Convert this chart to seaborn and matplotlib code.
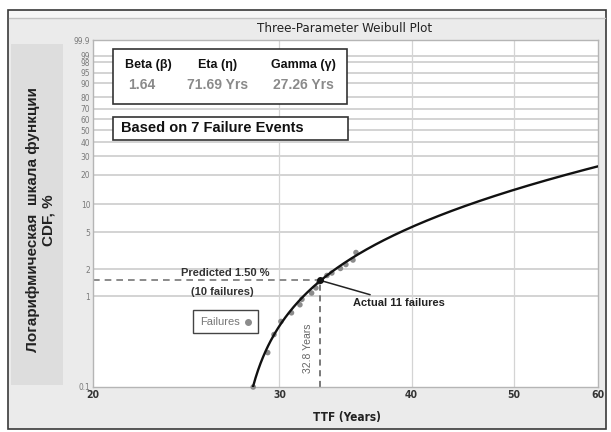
import numpy as np
import pandas as pd
import matplotlib
matplotlib.use("Agg")
import matplotlib.pyplot as plt
from matplotlib.patches import Rectangle
from matplotlib.lines import Line2D
import seaborn as sns

# Fitted three-parameter Weibull model
beta = 1.64
eta = 71.69
gamma = 27.26

# Observed failures: time to failure (years) and median-rank CDF (%)
fail_ttf = [28.34, 29.25, 29.65, 30.10, 30.80, 31.37, 31.51, 32.18,
            32.48, 32.70, 33.27, 33.63, 34.26, 34.67, 35.21, 35.44]
fail_cdf = [0.10, 0.24, 0.38, 0.53, 0.66, 0.81, 0.93, 1.09,
            1.24, 1.45, 1.70, 1.81, 2.03, 2.24, 2.51, 3.03]

# Prediction marker
pred_ttf = 32.8
pred_cdf = 1.50

y_ticks = [0.1, 1, 2, 5, 10, 20, 30, 40, 50, 60, 70, 80, 90, 95, 98, 99, 99.9]
y_tick_labels = ["0.1", "1", "2", "5", "10", "20", "30", "40", "50", "60",
                 "70", "80", "90", "95", "98", "99", "99.9"]
x_ticks = [20, 30, 40, 50, 60]
x_tick_labels = ["20", "30", "40", "50", "60"]

sns.set_theme(style="white")
plt.rcParams["font.family"] = ["Liberation Sans", "DejaVu Sans"]
COND = dict(family="DejaVu Sans", fontstretch="condensed")

W, H = 611, 432
fig = plt.figure(figsize=(W / 100, H / 100), dpi=100, facecolor="white")


def fx(x):
    return x / W


def fy(y):
    return 1 - y / H


def frect(x0, y0, x1, y1, **kw):
    r = Rectangle((fx(x0), fy(y1)), fx(x1) - fx(x0), fy(y0) - fy(y1),
                  transform=fig.transFigure, **kw)
    fig.patches.append(r)
    return r


# Frame and panels
frect(8, 10, 606, 429, facecolor="#ebebeb", edgecolor="#3a3a3a", lw=1.2, zorder=-3)
frect(9, 11, 605, 18, facecolor="#f7f7f7", edgecolor="none", zorder=-2)
fig.add_artist(Line2D([fx(9), fx(605)], [fy(18), fy(18)], color="#c4c4c4",
                      lw=1.0, transform=fig.transFigure, zorder=-1))
frect(11, 44, 63, 385, facecolor="#dddddd", edgecolor="none", zorder=-2)

ax = fig.add_axes([fx(93), fy(387), fx(598) - fx(93), fy(40) - fy(387)])
ax.set_facecolor("white")


def weib_fwd(p):
    p = np.clip(np.asarray(p, dtype=float), 1e-9, 100 - 1e-9)
    return np.log(-np.log(1 - p / 100.0))


def weib_inv(w):
    return 100.0 * (1 - np.exp(-np.exp(w)))


ax.set_xscale("log")
ax.set_yscale("function", functions=(weib_fwd, weib_inv))
ax.set_xlim(20, 60)
ax.set_ylim(0.1, 99.9)

# Model curve from the fitted parameters
t0 = gamma + eta * (-np.log(1 - 0.001)) ** (1 / beta)
t = np.linspace(t0, 60, 400)
cdf = 100 * (1 - np.exp(-((t - gamma) / eta) ** beta))
curve = pd.DataFrame({"TTF": t, "CDF": cdf})
pts = pd.DataFrame({"TTF": fail_ttf, "CDF": fail_cdf})

sns.scatterplot(data=pts, x="TTF", y="CDF", ax=ax, color="#8c8c8c", s=16,
                edgecolor="none", zorder=3, clip_on=False)
sns.lineplot(data=curve, x="TTF", y="CDF", ax=ax, color="#111111", lw=1.7,
             sort=False, zorder=4)

# Grid
ax.set_yticks(y_ticks)
ax.set_yticklabels(y_tick_labels)
ax.set_xticks(x_ticks)
ax.set_xticklabels(x_tick_labels)
ax.minorticks_off()
for v in y_ticks[1:-1]:
    ax.axhline(v, color="#c8c8c8", lw=1.1, zorder=1)
for v in x_ticks[1:-1]:
    ax.axvline(v, color="#d4d4d4", lw=0.9, zorder=1)
for s in ax.spines.values():
    s.set_color("#b5b5b5")
    s.set_linewidth(1.0)
ax.tick_params(axis="both", length=0, pad=2)
for lab in ax.get_yticklabels():
    lab.set_fontfamily("DejaVu Sans")
    lab.set_fontstretch("condensed")
    lab.set_fontsize(6)
    lab.set_color("#7a7a7a")
for lab in ax.get_xticklabels():
    lab.set_fontfamily("DejaVu Sans")
    lab.set_fontstretch("condensed")
    lab.set_fontsize(7.5)
    lab.set_fontweight("bold")
    lab.set_color("#333333")
ax.set_xlabel("")
ax.set_ylabel("")

# Prediction guides
ax.plot([20, pred_ttf], [pred_cdf, pred_cdf], ls=(0, (4, 3)), color="#777777",
        lw=1.2, zorder=2)
ax.plot([pred_ttf, pred_ttf], [0.1, pred_cdf], ls=(0, (4, 3)), color="#555555",
        lw=1.1, zorder=2)
ax.plot([pred_ttf], [pred_cdf], "o", color="#111111", ms=4, zorder=5)
ax.annotate("Actual 11 failures", xy=(pred_ttf, pred_cdf),
            xytext=(fx(353), fy(303)), textcoords="figure fraction",
            ha="left", va="center", fontsize=8, fontweight="bold",
            color="#222222",
            arrowprops=dict(arrowstyle="-", color="#222222", lw=1.1,
                            shrinkA=0, shrinkB=0))

fig.text(fx(225), fy(273), "Predicted 1.50 %", ha="center", va="center",
         fontsize=8, fontweight="bold", color="#333333")
fig.text(fx(222), fy(292), "(10 failures)", ha="center", va="center",
         fontsize=8, fontweight="bold", color="#333333")
fig.text(fx(308), fy(348), "32.8 Years", ha="center", va="center",
         rotation=90, fontsize=7.5, color="#666666")

# Failures key
frect(193, 310, 258, 333, facecolor="white", edgecolor="#444444", lw=1.0, zorder=2)
fig.text(fx(220), fy(322), "Failures", ha="center", va="center",
         fontsize=8, color="#777777")
fig.add_artist(Line2D([fx(248)], [fy(322)], marker="o", ms=4, color="#8c8c8c",
                      lw=0, transform=fig.transFigure, zorder=6))

# Parameter box
frect(113, 49, 347, 104, facecolor="white", edgecolor="#333333", lw=1.2, zorder=2)
for cx, head, val in [(148, "Beta (β)", "1.64"),
                      (218, "Eta (η)", "71.69 Yrs"),
                      (303, "Gamma (γ)", "27.26 Yrs")]:
    fig.text(fx(cx), fy(65), head, ha="center", va="center", fontsize=9,
             fontweight="bold", color="#111111")
    fig.text(fx(cx - (6 if val == "1.64" else 0)), fy(85), val, ha="center",
             va="center", fontsize=10, fontweight="bold", color="#8a8a8a")

frect(113, 117, 348, 140, facecolor="white", edgecolor="#333333", lw=1.2, zorder=2)
fig.text(fx(121), fy(128), "Based on 7 Failure Events", ha="left", va="center",
         fontsize=10.5, fontweight="bold", color="#111111")

# Titles
fig.text(fx(345), fy(28), "Three-Parameter Weibull Plot", ha="center",
         va="center", fontsize=9.5, color="#222222", **COND)
fig.text(fx(347), fy(417), "TTF (Years)", ha="center", va="center",
         fontsize=8.5, fontweight="bold", color="#222222", **COND)
fig.text(fx(41), fy(220), "Логарифмическая  шкала функции\nCDF, %",
         ha="center", va="center", rotation=90, fontsize=11,
         fontweight="bold", color="#222222", linespacing=1.15,
         multialignment="center")

fig.savefig("out.png", dpi=100, facecolor="white")
